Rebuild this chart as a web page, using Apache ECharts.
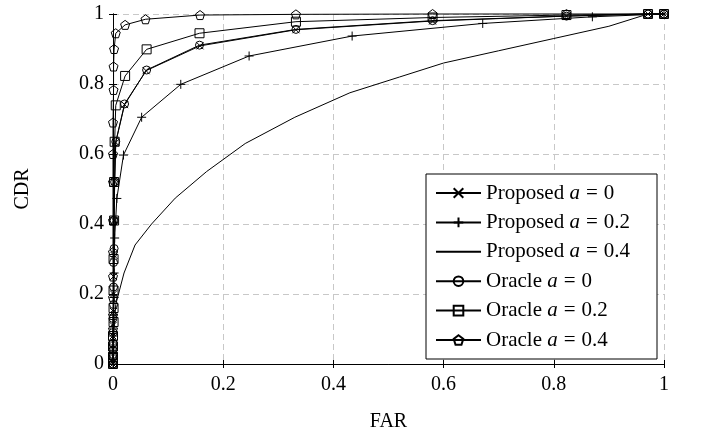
<!DOCTYPE html>
<html>
<head>
<meta charset="utf-8">
<script src="https://cdn.jsdelivr.net/npm/echarts@6/dist/echarts.min.js"></script>
<style>
  html, body { margin: 0; padding: 0; background: #fff; }
  #main { width: 701px; height: 432px; }
</style>
</head>
<body>
<div id="main"></div>
<script>
// values, [FAR, CDR]
var propA0 = [[0,0],[0,0.01],[0,0.03],[0,0.05],[0,0.08],[0,0.11],[0.001,0.15],[0.001,0.2],[0.001,0.25],[0.002,0.31],
  [0.002,0.41],[0.003,0.52],[0.005,0.633],[0.021,0.741],[0.06,0.838],[0.158,0.909],[0.332,0.955],[0.58,0.98],[0.823,0.994],[0.971,1],[1,1]];
var propA02 = [[0,0],[0,0.03],[0.001,0.08],[0.001,0.14],[0.002,0.19],[0.002,0.26],[0.003,0.36],[0.007,0.473],[0.019,0.597],
  [0.052,0.705],[0.123,0.799],[0.247,0.88],[0.434,0.937],[0.671,0.973],[0.87,0.992],[1,1]];
var propA04 = [[0,0],[0.002,0.1],[0.005,0.17],[0.01,0.2],[0.02,0.26],[0.04,0.34],[0.07,0.4],[0.113,0.474],[0.17,0.55],
  [0.24,0.63],[0.33,0.705],[0.43,0.775],[0.52,0.82],[0.6,0.86],[0.7,0.895],[0.8,0.93],[0.9,0.965],[0.971,1],[1,1]];
var oraA0 = [[0,0],[0,0.02],[0,0.04],[0,0.06],[0,0.09],[0,0.13],[0.001,0.17],[0.001,0.22],[0.001,0.29],[0.002,0.33],
  [0.002,0.41],[0.003,0.52],[0.005,0.635],[0.021,0.743],[0.061,0.84],[0.157,0.911],[0.332,0.956],[0.58,0.981],[0.823,0.994],[0.971,1],[1,1]];
var oraA02 = [[0,0],[0,0.02],[0,0.05],[0,0.08],[0.001,0.12],[0.001,0.16],[0.001,0.21],[0.001,0.3],[0.002,0.41],[0.002,0.52],
  [0.003,0.635],[0.005,0.739],[0.022,0.823],[0.061,0.899],[0.157,0.945],[0.332,0.978],[0.58,0.99],[0.823,0.997],[0.971,1],[1,1]];
var oraA04 = [[0,0],[0,0.03],[0,0.06],[0,0.1],[0,0.14],[0,0.19],[0,0.25],[0,0.32],[0,0.41],[0,0.52],[0,0.6],[0,0.69],
  [0.001,0.783],[0.001,0.85],[0.002,0.9],[0.005,0.945],[0.022,0.969],[0.059,0.985],[0.158,0.997],[0.332,0.999],[0.58,1],[0.823,1],[0.971,1],[1,1]];

var seriesNames = ['Proposed a = 0','Proposed a = 0.2','Proposed a = 0.4','Oracle a = 0','Oracle a = 0.2','Oracle a = 0.4'];

var font = 'Liberation Serif';
var crossPath = 'path://M0,0L10,10M0,10L10,0';
var plusPath = 'path://M5,0L5,10M0,5L10,5';
var pentPath = 'path://M5,0L9.755,3.455L7.939,9.045L2.061,9.045L0.245,3.455Z';

function mk(name, data, symbol, size) {
  var noMark = symbol === 'none';
  return {
    name: name,
    type: 'line',
    data: data,
    clip: false,
    symbol: noMark ? 'circle' : symbol,
    symbolSize: size,
    showSymbol: !noMark,
    lineStyle: { color: '#000', width: 1 },
    // a plain line has an invisible mark so its legend entry is only a line
    itemStyle: { color: 'rgba(255,255,255,0)', borderColor: noMark ? 'rgba(0,0,0,0)' : '#000', borderWidth: 1 },
    emphasis: { disabled: true }
  };
}

var chart = echarts.init(document.getElementById('main'));

var axisBase = {
  type: 'value', min: 0, max: 1, interval: 0.2,
  axisLine: { show: true, lineStyle: { color: '#000', width: 1 } },
  axisTick: { show: true, inside: true, length: 4, lineStyle: { color: '#000' } }
};
var grid = { show: true, lineStyle: { color: '#c8c8c8', type: [6, 4], width: 1 } };

chart.setOption({
  animation: false,
  grid: { left: 113, right: 37, top: 14, bottom: 68, show: false, outerBoundsMode: 'none' },
  xAxis: [
    Object.assign({}, axisBase, {
      position: 'bottom',
      name: 'FAR', nameLocation: 'middle', nameGap: 48,
      nameTextStyle: { fontFamily: font, fontSize: 20, color: '#000' },
      axisLabel: { fontFamily: font, fontSize: 20, color: '#000', margin: 11 },
      splitLine: grid
    }),
    Object.assign({}, axisBase, { position: 'top', axisLabel: { show: false }, splitLine: { show: false } })
  ],
  yAxis: [
    Object.assign({}, axisBase, {
      position: 'left',
      name: 'CDR', nameLocation: 'middle', nameGap: 80, nameRotate: 90,
      nameTextStyle: { fontFamily: font, fontSize: 20, color: '#000' },
      axisLabel: { fontFamily: font, fontSize: 20, color: '#000', margin: 9 },
      splitLine: grid
    }),
    Object.assign({}, axisBase, { position: 'right', axisLabel: { show: false }, splitLine: { show: false } })
  ],
  legend: {
    orient: 'vertical',
    left: 426, top: 174,
    padding: [8, 27, 8, 9],
    itemWidth: 45, itemHeight: 12, itemGap: 7.4,
    backgroundColor: '#fff',
    borderColor: '#000', borderWidth: 1,
    data: seriesNames,
    textStyle: {
      fontFamily: font, fontSize: 21, color: '#000', lineHeight: 22,
      rich: {
        n: { fontFamily: font, fontSize: 21, color: '#000', lineHeight: 22 },
        i: { fontFamily: font, fontSize: 21, color: '#000', fontStyle: 'italic', lineHeight: 22 },
        e: { fontFamily: font, fontSize: 21, color: '#000', padding: [0, 6], lineHeight: 22 }
      }
    },
    formatter: function (name) {
      var parts = name.split(' a = ');
      return '{n|' + parts[0] + ' }{i|a}{e|=}{n|' + parts[1] + '}';
    }
  },
  series: [
    mk(seriesNames[0], propA0, crossPath, 7),
    mk(seriesNames[1], propA02, plusPath, 9),
    mk(seriesNames[2], propA04, 'none', 0),
    mk(seriesNames[3], oraA0, 'circle', 8),
    mk(seriesNames[4], oraA02, 'rect', 9),
    mk(seriesNames[5], oraA04, pentPath, 9)
  ]
});
</script>
</body>
</html>
